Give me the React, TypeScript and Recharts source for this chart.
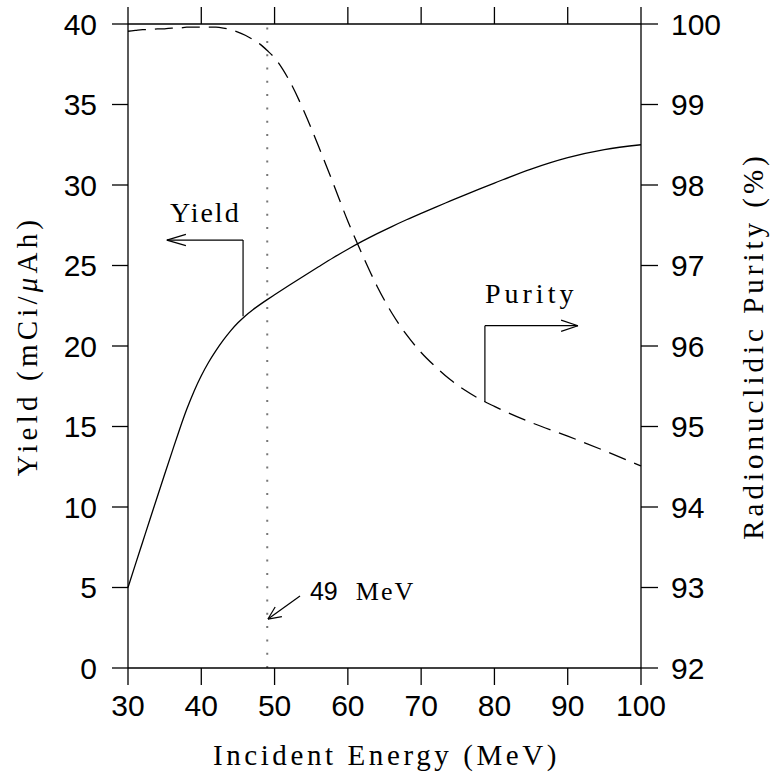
import React from "react";
import {
  ComposedChart,
  Line,
  XAxis,
  YAxis,
  ReferenceLine,
  ReferenceDot,
  Label,
} from "recharts";

// incident energy (MeV)
const energy = [
  30, 31, 32, 33, 34, 35, 36, 37, 38, 39, 40, 41, 42, 43, 44, 45, 46, 47, 48,
  49, 50, 52, 54, 56, 58, 60, 62, 64, 66, 68, 70, 72, 74, 76, 78, 80, 85, 90,
  95, 100,
];

// yield (mCi/uAh), left axis
const yieldVals = [
  5.0, 6.42, 7.83, 9.24, 10.64, 12.03, 13.41, 14.77, 16.05, 17.18, 18.15,
  18.99, 19.71, 20.36, 20.94, 21.44, 21.87, 22.24, 22.57, 22.88, 23.18, 23.77,
  24.35, 24.92, 25.48, 26.01, 26.51, 26.98, 27.42, 27.84, 28.24, 28.63, 29.01,
  29.39, 29.76, 30.12, 30.99, 31.7, 32.2, 32.5,
];

// radionuclidic purity (%), right axis
const purityVals = [
  99.91, 99.92, 99.93, 99.93, 99.94, 99.94, 99.95, 99.95, 99.96, 99.96, 99.96,
  99.96, 99.96, 99.95, 99.93, 99.9, 99.86, 99.81, 99.75, 99.67, 99.58, 99.3,
  98.92, 98.48, 98.02, 97.55, 97.13, 96.74, 96.41, 96.14, 95.92, 95.74, 95.58,
  95.45, 95.34, 95.25, 95.05, 94.88, 94.7, 94.51,
];

const xTicks = [30, 40, 50, 60, 70, 80, 90, 100];
const leftTicks = [0, 5, 10, 15, 20, 25, 30, 35, 40];
const rightTicks = [92, 93, 94, 95, 96, 97, 98, 99, 100];

const markerEnergy = 49;

// annotation arrows in (energy, yield) units
const arrows = [
  // Yield -> left axis
  [{ x: 45.7, y: 21.85 }, { x: 45.7, y: 26.58 }],
  [{ x: 45.7, y: 26.58 }, { x: 35.3, y: 26.58 }],
  [{ x: 35.3, y: 26.58 }, { x: 37.9, y: 26.93 }],
  [{ x: 35.3, y: 26.58 }, { x: 37.9, y: 26.23 }],
  // Purity -> right axis
  [{ x: 78.7, y: 16.52 }, { x: 78.7, y: 21.26 }],
  [{ x: 78.7, y: 21.26 }, { x: 91.4, y: 21.26 }],
  [{ x: 91.4, y: 21.26 }, { x: 89.1, y: 21.61 }],
  [{ x: 91.4, y: 21.26 }, { x: 89.1, y: 20.91 }],
  // 49 MeV pointer
  [{ x: 53.47, y: 4.47 }, { x: 49.1, y: 3.04 }],
  [{ x: 49.1, y: 3.04 }, { x: 51.0, y: 3.19 }],
  [{ x: 49.1, y: 3.04 }, { x: 50.08, y: 3.79 }],
];

const data = energy.map((e, i) => ({
  e,
  yield: yieldVals[i],
  purity: purityVals[i],
}));

const SANS = "Liberation Sans";
const SERIF = "Liberation Serif";

const tickStyle = { fill: "#000", fontSize: 30, fontFamily: SANS };
const lineStyle = { stroke: "#000", strokeWidth: 1.3 };

function LeftTitle(props: any) {
  const vb = props.viewBox;
  const x = vb.x + 27;
  const y = vb.y + vb.height / 2;
  return (
    <text
      x={x}
      y={y}
      dy="0.35em"
      transform={`rotate(-90 ${x} ${y})`}
      textAnchor="middle"
      fontFamily={SERIF}
      fontSize={29}
      letterSpacing={4.2}
      fill="#000"
    >
      Yield (mCi/<tspan fontStyle="italic">μ</tspan>Ah)
    </text>
  );
}

function RightTitle(props: any) {
  const vb = props.viewBox;
  const x = vb.x + 112;
  const y = vb.y + vb.height / 2;
  return (
    <text
      x={x}
      y={y}
      dy="0.35em"
      transform={`rotate(-90 ${x} ${y})`}
      textAnchor="middle"
      fontFamily={SERIF}
      fontSize={29}
      letterSpacing={4}
      fill="#000"
    >
      Radionuclidic Purity (%)
    </text>
  );
}

function BottomTitle(props: any) {
  const vb = props.viewBox;
  return (
    <text
      x={vb.x + vb.width / 2 + 2}
      y={vb.y + vb.height - 7}
      textAnchor="middle"
      fontFamily={SERIF}
      fontSize={29}
      letterSpacing={3.6}
      fill="#000"
    >
      Incident Energy (MeV)
    </text>
  );
}

export default function App() {
  return (
    <div style={{ position: "absolute", left: 0, top: 0, background: "#fff" }}>
      <ComposedChart
        width={770}
        height={772}
        data={data}
        margin={{ top: 0, right: 0, bottom: 0, left: 0 }}
      >
        <XAxis
          dataKey="e"
          type="number"
          domain={[30, 100]}
          ticks={xTicks}
          height={104}
          tickSize={17}
          tickMargin={10}
          tick={tickStyle}
          axisLine={lineStyle}
          tickLine={lineStyle}
          label={<Label content={BottomTitle} />}
        />
        <XAxis
          xAxisId="top"
          orientation="top"
          dataKey="e"
          type="number"
          domain={[30, 100]}
          ticks={xTicks}
          height={24}
          tickSize={17}
          tickFormatter={() => ""}
          axisLine={lineStyle}
          tickLine={lineStyle}
        />
        <YAxis
          yAxisId="left"
          type="number"
          domain={[0, 40]}
          ticks={leftTicks}
          width={128}
          tickSize={16}
          tickMargin={15}
          tick={tickStyle}
          axisLine={lineStyle}
          tickLine={lineStyle}
          allowDataOverflow
          label={<Label content={LeftTitle} />}
        />
        <YAxis
          yAxisId="right"
          orientation="right"
          type="number"
          domain={[92, 100]}
          ticks={rightTicks}
          width={129}
          tickSize={17}
          tickMargin={13}
          tick={tickStyle}
          axisLine={lineStyle}
          tickLine={lineStyle}
          allowDataOverflow
          label={<Label content={RightTitle} />}
        />

        <ReferenceLine
          yAxisId="left"
          x={markerEnergy}
          stroke="#777"
          strokeWidth={2}
          strokeDasharray="2 11.3"
        />

        <Line
          yAxisId="left"
          type="monotone"
          dataKey="yield"
          stroke="#000"
          strokeWidth={1.3}
          dot={false}
          isAnimationActive={false}
        />
        <Line
          yAxisId="right"
          type="monotone"
          dataKey="purity"
          stroke="#000"
          strokeWidth={1.3}
          strokeDasharray="18 9"
          dot={false}
          isAnimationActive={false}
        />

        {arrows.map((seg, i) => (
          <ReferenceLine
            key={i}
            yAxisId="left"
            segment={seg}
            stroke="#000"
            strokeWidth={1.2}
          />
        ))}

        <ReferenceDot
          yAxisId="left"
          x={35.73}
          y={27.7}
          r={0}
          shape={(p: any) => (
            <text
              x={p.cx}
              y={p.cy}
              fontFamily={SERIF}
              fontSize={28}
              letterSpacing={2}
              fill="#000"
            >
              Yield
            </text>
          )}
        />
        <ReferenceDot
          yAxisId="left"
          x={78.71}
          y={22.67}
          r={0}
          shape={(p: any) => (
            <text
              x={p.cx}
              y={p.cy}
              fontFamily={SERIF}
              fontSize={28}
              letterSpacing={4}
              fill="#000"
            >
              Purity
            </text>
          )}
        />
        <ReferenceDot
          yAxisId="left"
          x={54.83}
          y={4.22}
          r={0}
          shape={(p: any) => (
            <text x={p.cx} y={p.cy} fill="#000">
              <tspan fontFamily={SANS} fontSize={25}>
                49
              </tspan>
              <tspan fontFamily={SERIF} fontSize={26} letterSpacing={2} dx={18}>
                MeV
              </tspan>
            </text>
          )}
        />
      </ComposedChart>
    </div>
  );
}
